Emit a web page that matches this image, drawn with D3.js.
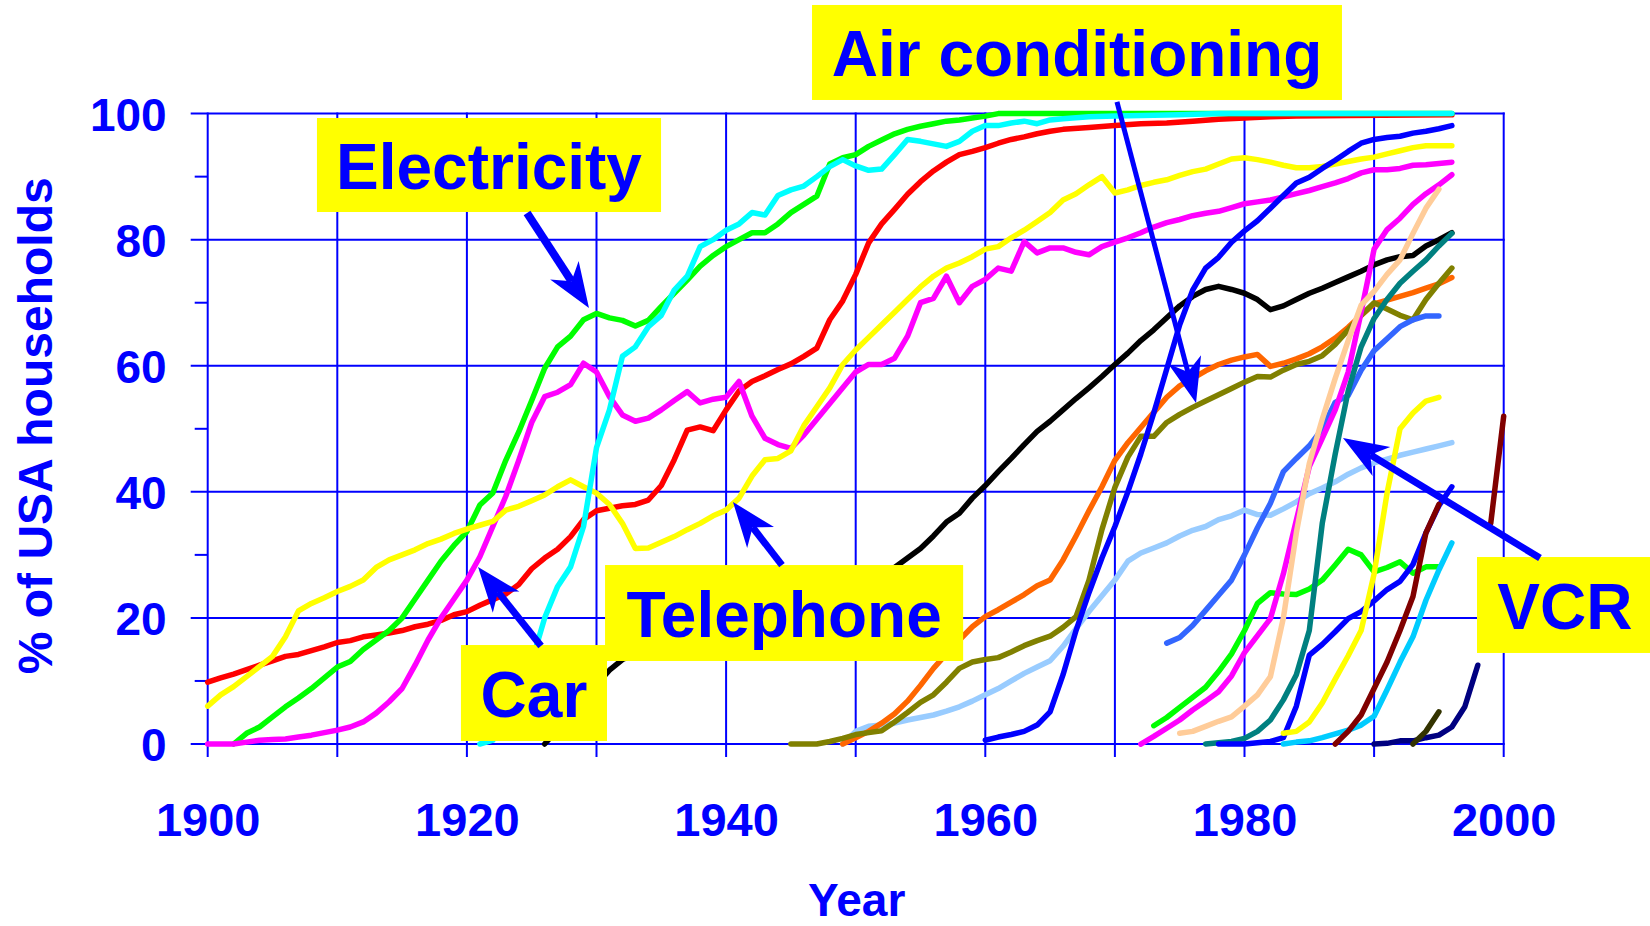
<!DOCTYPE html>
<html>
<head>
<meta charset="utf-8">
<script src="https://cdn.jsdelivr.net/npm/d3@7"></script>
<style>
  body { margin: 0; background: #fff; }
  svg { display: block; font-family: "Liberation Sans", Arial, sans-serif; font-weight: bold; }
</style>
</head>
<body>
<svg id="chart" width="1650" height="926"></svg>
<script>
// [year, % of households]
const redLine = [[1900,9.8],[1901,10.5],[1902,11.1],[1903,11.8],[1904,12.5],[1905,13.2],[1906,13.9],[1907,14.2],[1908,14.8],[1909,15.4],[1910,16.1],[1911,16.4],[1912,17.0],[1913,17.3],[1914,17.6],[1915,18.0],[1916,18.6],[1917,19.0],[1918,19.6],[1919,20.5],[1920,21.0],[1921,22.0],[1922,22.9],[1923,23.8],[1924,25.3],[1925,27.8],[1926,29.5],[1927,30.9],[1928,32.9],[1929,35.6],[1930,37.0],[1931,37.4],[1932,37.8],[1933,38.0],[1934,38.7],[1935,41.0],[1936,45.1],[1937,49.8],[1938,50.3],[1939,49.7],[1940,53.0],[1941,56.0],[1942,57.5],[1943,58.4],[1944,59.4],[1945,60.3],[1946,61.5],[1947,62.8],[1948,67.3],[1949,70.3],[1950,74.5],[1951,79.5],[1952,82.5],[1953,84.8],[1954,87.2],[1955,89.2],[1956,90.9],[1957,92.3],[1958,93.5],[1959,94.0],[1960,94.6],[1961,95.3],[1962,95.9],[1963,96.3],[1964,96.8],[1965,97.2],[1966,97.5],[1968,97.8],[1970,98.1],[1972,98.4],[1974,98.5],[1976,98.8],[1978,99.1],[1980,99.3],[1982,99.5],[1984,99.6],[1988,99.7],[1996,99.8]];
const electricity = [[1902,0],[1903,1.7],[1904,2.7],[1905,4.3],[1906,5.9],[1907,7.3],[1908,8.8],[1909,10.5],[1910,12.2],[1911,13.1],[1912,15],[1913,16.5],[1914,18],[1915,20],[1916,23],[1917,26],[1918,29],[1919,31.5],[1920,33.7],[1921,37.9],[1922,39.8],[1923,45],[1924,49.5],[1925,54.5],[1926,59.6],[1927,63],[1928,64.7],[1929,67.3],[1930,68.3],[1931,67.6],[1932,67.2],[1933,66.3],[1934,67.2],[1935,69.4],[1936,71.5],[1937,73.6],[1938,75.8],[1939,77.5],[1940,78.9],[1941,80],[1942,81.1],[1943,81.1],[1944,82.5],[1945,84.3],[1946,85.6],[1947,86.9],[1948,92],[1949,93],[1950,93.5],[1951,94.8],[1952,95.8],[1953,96.8],[1954,97.5],[1955,98],[1956,98.4],[1957,98.8],[1958,99],[1959,99.3],[1960,99.6],[1961,100],[1996,100]];
const car = [[1900,0],[1902,0],[1903,0.3],[1904,0.6],[1905,0.7],[1906,0.8],[1907,1.1],[1908,1.4],[1909,1.8],[1910,2.2],[1911,2.7],[1912,3.5],[1913,4.9],[1914,6.7],[1915,8.8],[1916,12.5],[1917,16.5],[1918,20],[1919,23],[1920,26],[1921,29.7],[1922,34.5],[1923,39.3],[1924,45],[1925,51],[1926,55.1],[1927,55.8],[1928,57],[1929,60.4],[1930,59],[1931,55.1],[1932,52.2],[1933,51.2],[1934,51.7],[1935,53],[1936,54.5],[1937,55.9],[1938,54.1],[1939,54.7],[1940,55],[1941,57.5],[1942,52],[1943,48.5],[1944,47.5],[1945,46.9],[1946,49],[1947,51.5],[1948,54],[1949,56.5],[1950,59],[1951,60.2],[1952,60.2],[1953,61.2],[1954,64.7],[1955,70],[1956,70.7],[1957,74.2],[1958,70],[1959,72.6],[1960,73.7],[1961,75.5],[1962,75],[1963,79.7],[1964,77.9],[1965,78.7],[1966,78.7],[1967,78],[1968,77.6],[1969,78.9],[1970,79.6],[1971,80.3],[1972,81.1],[1973,82],[1974,82.7],[1975,83.2],[1976,83.8],[1977,84.2],[1978,84.5],[1979,85.1],[1980,85.7],[1981,86],[1982,86.3],[1983,86.8],[1984,87.3],[1985,87.8],[1986,88.4],[1987,89],[1988,89.7],[1989,90.6],[1990,91.1],[1991,91.1],[1992,91.3],[1993,91.8],[1994,91.9],[1995,92.1],[1996,92.3]];
const telephone = [[1900,6],[1901,7.8],[1902,9.1],[1903,10.7],[1904,12.3],[1905,13.9],[1906,17],[1907,21.1],[1908,22.3],[1909,23.2],[1910,24.2],[1911,25],[1912,26],[1913,28],[1914,29.2],[1915,30],[1916,30.8],[1917,31.8],[1918,32.5],[1919,33.4],[1920,34.1],[1921,34.7],[1922,35.3],[1923,37.1],[1924,37.7],[1925,38.6],[1926,39.5],[1927,40.8],[1928,41.9],[1929,40.8],[1930,39.8],[1931,38],[1932,35],[1933,31],[1934,31.1],[1935,32],[1936,32.9],[1937,34],[1938,35],[1939,36.2],[1940,37.1],[1941,39],[1942,42.5],[1943,45.1],[1944,45.3],[1945,46.5],[1946,50.5],[1947,53.5],[1948,56.5],[1949,60.2],[1950,62.5],[1951,64.5],[1952,66.5],[1953,68.5],[1954,70.5],[1955,72.5],[1956,74.2],[1957,75.5],[1958,76.3],[1959,77.3],[1960,78.5],[1961,78.9],[1962,80.3],[1963,81.5],[1964,82.9],[1965,84.3],[1966,86.3],[1967,87.3],[1968,88.7],[1969,90],[1970,87.4],[1971,87.9],[1972,88.6],[1973,89.1],[1974,89.5],[1975,90.2],[1976,90.8],[1977,91.2],[1978,92],[1979,92.8],[1980,93],[1981,92.7],[1982,92.3],[1983,91.8],[1984,91.4],[1985,91.4],[1986,91.6],[1987,92],[1988,92.4],[1989,92.8],[1990,93.1],[1991,93.6],[1992,94.1],[1993,94.6],[1994,94.9],[1996,94.9]];
const cyanLine = [[1921,0],[1922,0.6],[1923,4],[1924,8.5],[1925,13],[1926,20],[1927,25],[1928,28.1],[1929,34.5],[1930,47],[1931,53],[1932,61.5],[1933,63],[1934,66.2],[1935,68],[1936,72],[1937,74.2],[1938,78.9],[1939,80],[1940,81.5],[1941,82.5],[1942,84.3],[1943,83.9],[1944,87],[1945,87.9],[1946,88.5],[1947,90],[1948,91.6],[1949,92.7],[1950,91.7],[1951,91],[1952,91.2],[1953,93.5],[1954,95.9],[1955,95.6],[1956,95.2],[1957,94.8],[1958,95.6],[1959,97.2],[1960,98.1],[1961,98.1],[1962,98.5],[1963,98.8],[1964,98.4],[1965,99],[1966,99.2],[1968,99.5],[1970,99.6],[1975,99.8],[1978,100],[1996,100]];
const blackLine = [[1926,0],[1927,2.3],[1928,4.6],[1929,6.9],[1930,9.4],[1931,11.7],[1932,13.4],[1935,16],[1940,19.5],[1945,22.5],[1950,25.5],[1953,28],[1954,29.5],[1955,31],[1956,33],[1957,35.2],[1958,36.6],[1959,39],[1960,41],[1961,43.2],[1962,45.3],[1963,47.5],[1964,49.6],[1965,51.2],[1966,53],[1967,54.8],[1968,56.5],[1969,58.3],[1970,60.2],[1971,62],[1972,64],[1973,65.7],[1974,67.6],[1975,69.5],[1976,71],[1977,72.1],[1978,72.6],[1979,72.1],[1980,71.5],[1981,70.5],[1982,68.9],[1983,69.5],[1984,70.5],[1985,71.5],[1986,72.3],[1987,73.2],[1988,74.1],[1989,75],[1990,76],[1991,76.8],[1992,77.3],[1993,77.5],[1994,79],[1995,80],[1996,81.1]];
const lightBlueLine = [[1949,0],[1950,2],[1951,2.8],[1952,3],[1953,3.3],[1954,3.8],[1955,4.2],[1956,4.6],[1957,5.2],[1958,5.9],[1959,6.8],[1960,7.8],[1961,8.8],[1962,10],[1963,11.2],[1964,12.2],[1965,13.2],[1966,15.5],[1967,18.3],[1968,21],[1969,23.5],[1970,26],[1971,29],[1972,30.3],[1973,31.1],[1974,31.9],[1975,33],[1976,33.9],[1977,34.5],[1978,35.6],[1979,36.2],[1980,37.1],[1981,36.4],[1982,36.3],[1983,37.3],[1984,38.4],[1985,39.7],[1986,40.6],[1987,41.6],[1988,42.8],[1989,43.8],[1990,44.6],[1991,45.2],[1992,45.8],[1993,46.3],[1994,46.8],[1995,47.3],[1996,47.8]];
const orangeLine = [[1949,0],[1950,1],[1951,2],[1952,3.3],[1953,4.8],[1954,6.8],[1955,9.3],[1956,12],[1957,14.3],[1958,16.5],[1959,18.6],[1960,20.2],[1961,21.3],[1962,22.5],[1963,23.7],[1964,25.1],[1965,26],[1966,29.2],[1967,33],[1968,37],[1969,40.8],[1970,45],[1971,47.8],[1972,50.2],[1973,52.6],[1974,55],[1975,56.8],[1976,58],[1977,59.2],[1978,60.2],[1979,60.9],[1980,61.4],[1981,61.8],[1982,59.9],[1983,60.4],[1984,61.1],[1985,61.9],[1986,63],[1987,64.4],[1988,66.1],[1989,68],[1990,69.8],[1991,70.4],[1992,71],[1993,71.6],[1994,72.3],[1995,73],[1996,74]];
const airConditioning = [[1945,0],[1947,0],[1948,0.4],[1949,0.9],[1950,1.5],[1951,1.8],[1952,2.1],[1953,3.5],[1954,5],[1955,6.6],[1956,7.8],[1957,9.8],[1958,12],[1959,13],[1960,13.4],[1961,13.7],[1962,14.6],[1963,15.6],[1964,16.4],[1965,17.1],[1966,18.5],[1967,20.2],[1968,26],[1969,34],[1970,40.7],[1971,45.5],[1972,48.8],[1973,48.8],[1974,51],[1975,52.3],[1976,53.4],[1977,54.4],[1978,55.4],[1979,56.4],[1980,57.4],[1981,58.3],[1982,58.2],[1983,59.3],[1984,60.2],[1985,60.7],[1986,61.6],[1987,63.4],[1988,65.7],[1989,68],[1990,70],[1991,69],[1992,68],[1993,67.3],[1994,70.5],[1995,73.1],[1996,75.5]];
const blueLine = [[1960,0.6],[1961,1.1],[1962,1.5],[1963,2],[1964,3],[1965,5.1],[1966,11],[1967,18],[1968,24],[1969,29.5],[1970,34.5],[1971,40],[1972,46],[1973,52.5],[1974,59.5],[1975,66.5],[1976,72],[1977,75.5],[1978,77.2],[1979,79.6],[1980,81.4],[1981,83],[1982,85],[1983,87],[1984,89],[1985,89.9],[1986,91.3],[1987,92.6],[1988,94],[1989,95.3],[1990,95.9],[1991,96.2],[1992,96.4],[1993,96.9],[1994,97.2],[1995,97.6],[1996,98.1]];
const royalBlueLine = [[1974,16],[1975,16.9],[1976,18.8],[1977,21.2],[1978,23.6],[1979,26],[1980,30],[1981,34.3],[1982,38.2],[1983,43.2],[1984,45.3],[1985,47.3],[1986,50],[1987,54.2],[1988,55.3],[1989,59.3],[1990,62.4],[1991,64.3],[1992,66.2],[1993,67.3],[1994,67.9],[1995,67.9]];
const greenLine2 = [[1973,2.9],[1974,4.2],[1975,5.8],[1976,7.4],[1977,9],[1978,11.5],[1979,14.3],[1980,18],[1981,22.3],[1982,24],[1983,23.8],[1984,23.7],[1985,24.6],[1986,26],[1987,28.4],[1988,30.9],[1989,30],[1990,27.3],[1991,28],[1992,28.9],[1993,27.1],[1994,28.1],[1995,28.1]];
const magentaLine2 = [[1972,0],[1973,1.2],[1974,2.5],[1975,3.8],[1976,5.4],[1977,6.8],[1978,8.3],[1979,10.8],[1980,14.5],[1981,17.2],[1982,19.9],[1983,27],[1984,35.5],[1985,44],[1986,48.5],[1987,53],[1988,59],[1989,68.5],[1990,78.5],[1991,81.6],[1992,83.4],[1993,85.6],[1994,87.3],[1995,88.7],[1996,90.3]];
const peachLine = [[1975,1.7],[1976,2],[1977,2.8],[1978,3.6],[1979,4.3],[1980,6],[1981,7.8],[1982,10.7],[1983,20],[1984,33.5],[1985,44.5],[1986,51.5],[1987,58],[1988,64],[1989,69.6],[1990,71.8],[1991,74.5],[1992,76.8],[1993,81],[1994,85],[1995,88]];
const vcr = [[1977,0],[1978,0.2],[1979,0.4],[1980,0.9],[1981,2],[1982,3.8],[1983,7],[1984,11],[1985,18],[1986,35],[1987,46],[1988,56],[1989,63],[1990,67.5],[1991,70.5],[1992,73.1],[1993,75],[1994,76.8],[1995,79],[1996,81]];
const blueLine2 = [[1978,0],[1980,0],[1981,0.2],[1982,0.4],[1983,1],[1984,6],[1985,14.1],[1986,15.8],[1987,17.8],[1988,19.9],[1989,21],[1990,22.7],[1991,24.5],[1992,25.8],[1993,28.5],[1994,33.5],[1995,37.8],[1996,40.8]];
const yellowLine2 = [[1983,1.7],[1984,2],[1985,3.5],[1986,6.5],[1987,10.3],[1988,14],[1989,18],[1990,27],[1991,39.8],[1992,50],[1993,52.5],[1994,54.4],[1995,55]];
const skyLine = [[1983,0],[1984,0.3],[1985,0.5],[1986,1],[1987,1.6],[1988,2.2],[1989,3],[1990,4.4],[1991,8.6],[1992,13],[1993,17],[1994,22.8],[1995,27.6],[1996,31.9]];
const maroonLine = [[1987,0],[1988,2],[1989,4.6],[1990,8.8],[1991,13],[1992,18],[1993,23.4],[1994,33.5],[1995,38],[1996,null],[1999,35],[2000,52]];
const navyLine = [[1990,0],[1991,0.1],[1992,0.5],[1993,0.5],[1994,1],[1995,1.4],[1996,2.7],[1997,5.9],[1998,12.5]];
const darkOliveLine = [[1993,0],[1994,2],[1995,5.1]];

const decades = [1900, 1910, 1920, 1930, 1940, 1950, 1960, 1970, 1980, 1990, 2000];
const yearLabels = [1900, 1920, 1940, 1960, 1980, 2000];
const percentLabels = [0, 20, 40, 60, 80, 100];
const minorPercents = [10, 30, 50, 70, 90];

// drawing order, back to front
const series = [
  { data: redLine, color: "#ff0000" },
  { data: electricity, color: "#00ff00" },
  { data: car, color: "#ff00ff" },
  { data: telephone, color: "#ffff00" },
  { data: cyanLine, color: "#00ffff" },
  { data: blackLine, color: "#000000" },
  { data: lightBlueLine, color: "#99ccff" },
  { data: orangeLine, color: "#ff6600" },
  { data: airConditioning, color: "#808000" },
  { data: blueLine, color: "#0000ff" },
  { data: royalBlueLine, color: "#3366ff" },
  { data: greenLine2, color: "#00ff00" },
  { data: magentaLine2, color: "#ff00ff" },
  { data: peachLine, color: "#ffcc99" },
  { data: vcr, color: "#008080" },
  { data: blueLine2, color: "#0000ff" },
  { data: yellowLine2, color: "#ffff00" },
  { data: skyLine, color: "#00ccff" },
  { data: maroonLine, color: "#800000" },
  { data: navyLine, color: "#000080" },
  { data: darkOliveLine, color: "#333300" }
];

// callouts in data units: box [x0, x1, yTop, yBottom], arrow from -> to
const callouts = [
  { text: "Electricity", box: [1908.43, 1934.98, 99.3, 84.39], from: [1924.64, 84.23], to: [1929.42, 69.16], width: 8 },
  { text: "Air conditioning", box: [1946.63, 1987.52, 117.23, 102.16], from: [1970.16, 101.86], to: [1976.26, 54.09], width: 5 },
  { text: "Telephone", box: [1930.66, 1958.29, 28.39, 13.17], from: [1944.31, 28.39], to: [1940.53, 38.39], width: 7 },
  { text: "Car", box: [1919.54, 1930.81, 15.7, 0.48], from: [1925.72, 15.55], to: [1920.86, 28.08], width: 7 },
  { text: "VCR", box: [1997.94, 2011.5, 29.66, 14.44], from: [2002.8, 29.5], to: [1987.6, 48.54], width: 7 }
];

const blue = "#0000ff";
const svg = d3.select("#chart");
const x = d3.scaleLinear().domain([1900, 2000]).range([207.7, 1503.7]);
const y = d3.scaleLinear().domain([0, 100]).range([744, 113.6]);

// grid + ticks
const grid = svg.append("g").attr("stroke", blue).attr("stroke-width", 2);
grid.selectAll(".v").data(decades).join("line")
    .attr("x1", d => x(d)).attr("x2", d => x(d))
    .attr("y1", y(100) - 1).attr("y2", y(0) + 13);
grid.selectAll(".h").data(percentLabels).join("line")
    .attr("x1", x(1900) - 17).attr("x2", x(2000) + 1)
    .attr("y1", d => y(d)).attr("y2", d => y(d));
grid.selectAll(".m").data(minorPercents).join("line")
    .attr("x1", x(1900) - 13).attr("x2", x(1900))
    .attr("y1", d => y(d)).attr("y2", d => y(d));

// axis labels
const xAxis = svg.append("g")
    .attr("transform", `translate(0,${y(0)})`)
    .call(d3.axisBottom(x).tickValues(yearLabels).tickSize(0).tickPadding(59).tickFormat(d3.format("d")));
const yAxis = svg.append("g")
    .attr("transform", `translate(${x(1900)},0)`)
    .call(d3.axisLeft(y).tickValues(percentLabels).tickSize(0).tickPadding(41));
[xAxis, yAxis].forEach(a => {
  a.select(".domain").remove();
  a.selectAll("text").attr("fill", blue).attr("font-size", 47)
    .attr("font-family", null).attr("font-weight", "bold");
});
yAxis.selectAll("text").attr("dy", "0.36em").attr("font-size", 46);

svg.append("text")
    .attr("x", x(1950) + 1).attr("y", 916)
    .attr("text-anchor", "middle").attr("font-size", 46).attr("fill", blue)
    .text("Year");
svg.append("text")
    .attr("transform", `translate(52,${(y(0) + y(100)) / 2 - 3}) rotate(-90)`)
    .attr("text-anchor", "middle").attr("font-size", 48).attr("fill", blue)
    .text("% of USA households");

// series
const line = d3.line()
    .defined(d => d[1] != null)
    .x(d => x(d[0]))
    .y(d => y(d[1]));
svg.append("g").selectAll("path").data(series).join("path")
    .attr("d", d => line(d.data))
    .attr("fill", "none")
    .attr("stroke", d => d.color)
    .attr("stroke-width", 5.5)
    .attr("stroke-linejoin", "round")
    .attr("stroke-linecap", "round");

// callouts
const notes = svg.append("g");
callouts.forEach(c => {
  const x0 = x(c.box[0]), x1 = x(c.box[1]), y0 = y(c.box[2]), y1 = y(c.box[3]);
  notes.append("rect")
      .attr("x", x0).attr("y", y0).attr("width", x1 - x0).attr("height", y1 - y0)
      .attr("fill", "#ffff00");
  notes.append("text")
      .attr("x", (x0 + x1) / 2).attr("y", (y0 + y1) / 2 + 24)
      .attr("text-anchor", "middle").attr("font-size", 64).attr("fill", blue)
      .text(c.text);

  const ax = x(c.from[0]), ay = y(c.from[1]), tx = x(c.to[0]), ty = y(c.to[1]);
  const len = Math.hypot(tx - ax, ty - ay);
  const ux = (tx - ax) / len, uy = (ty - ay) / len, px = -uy, py = ux;
  const L = 45, W = 17, N = 32;
  notes.append("line")
      .attr("x1", ax).attr("y1", ay)
      .attr("x2", tx - N * ux).attr("y2", ty - N * uy)
      .attr("stroke", blue).attr("stroke-width", c.width);
  notes.append("path")
      .attr("d", `M${tx},${ty}L${tx - L * ux + W * px},${ty - L * uy + W * py}L${tx - N * ux},${ty - N * uy}L${tx - L * ux - W * px},${ty - L * uy - W * py}Z`)
      .attr("fill", blue);
});
</script>
</body>
</html>
